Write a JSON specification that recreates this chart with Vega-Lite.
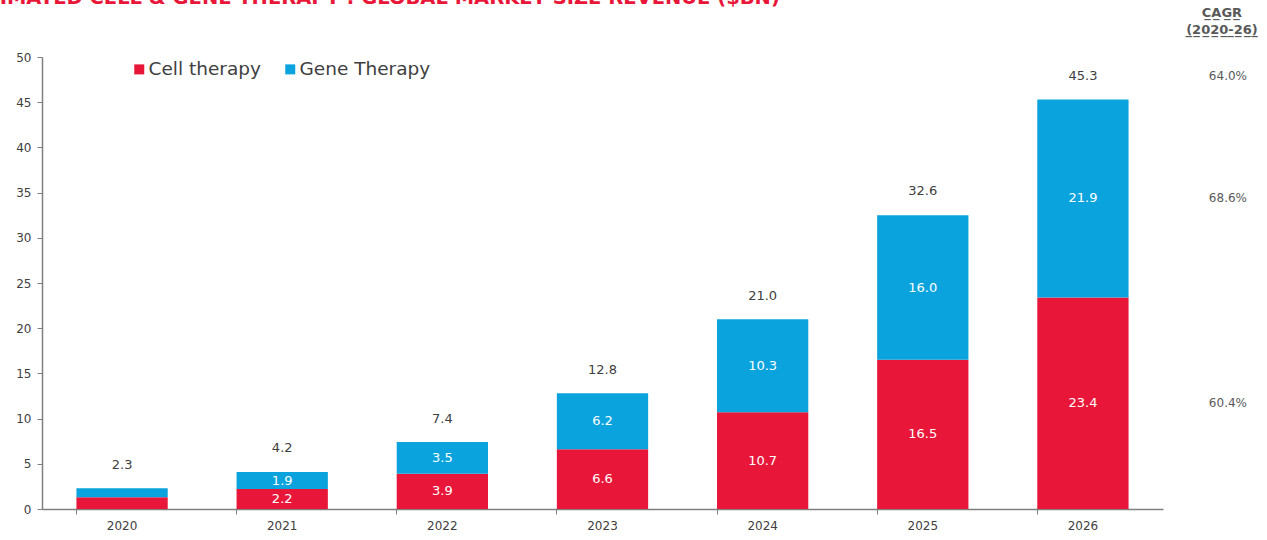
{
  "$schema": "https://vega.github.io/schema/vega-lite/v6.json",
  "width": 1121,
  "height": 452,
  "autosize": {"type": "none"},
  "padding": {"left": 42, "top": 57, "right": 104, "bottom": 31},
  "background": "white",
  "title": {
    "text": "ESTIMATED CELL & GENE THERAPY : GLOBAL MARKET SIZE REVENUE ($BN)",
    "anchor": "start",
    "frame": "group",
    "dx": -83,
    "dy": 20,
    "offset": 0,
    "baseline": "bottom",
    "color": "#E8173A",
    "font": "DejaVu Sans",
    "fontSize": 19.5,
    "fontWeight": "bold"
  },
  "config": {
    "view": {"stroke": null},
    "font": "DejaVu Sans",
    "text": {"font": "DejaVu Sans"}
  },
  "datasets": {
    "segments": [
      {"year": "2020", "series": "Cell therapy", "value": 1.3, "cagr": ""},
      {"year": "2020", "series": "Gene Therapy", "value": 1.0, "cagr": ""},
      {"year": "2021", "series": "Cell therapy", "value": 2.2, "cagr": ""},
      {"year": "2021", "series": "Gene Therapy", "value": 1.9, "cagr": ""},
      {"year": "2022", "series": "Cell therapy", "value": 3.9, "cagr": ""},
      {"year": "2022", "series": "Gene Therapy", "value": 3.5, "cagr": ""},
      {"year": "2023", "series": "Cell therapy", "value": 6.6, "cagr": ""},
      {"year": "2023", "series": "Gene Therapy", "value": 6.2, "cagr": ""},
      {"year": "2024", "series": "Cell therapy", "value": 10.7, "cagr": ""},
      {"year": "2024", "series": "Gene Therapy", "value": 10.3, "cagr": ""},
      {"year": "2025", "series": "Cell therapy", "value": 16.5, "cagr": ""},
      {"year": "2025", "series": "Gene Therapy", "value": 16.0, "cagr": ""},
      {"year": "2026", "series": "Cell therapy", "value": 23.4, "cagr": "60.4%"},
      {"year": "2026", "series": "Gene Therapy", "value": 21.9, "cagr": "68.6%"}
    ],
    "totals": [
      {"year": "2020", "total": 2.3, "cagr": ""},
      {"year": "2021", "total": 4.2, "cagr": ""},
      {"year": "2022", "total": 7.4, "cagr": ""},
      {"year": "2023", "total": 12.8, "cagr": ""},
      {"year": "2024", "total": 21.0, "cagr": ""},
      {"year": "2025", "total": 32.6, "cagr": ""},
      {"year": "2026", "total": 45.3, "cagr": "64.0%"}
    ]
  },
  "resolve": {"axis": {"x": "independent", "y": "independent"}},
  "layer": [
    {
      "data": {"name": "segments"},
      "mark": {"type": "bar"},
      "encoding": {
        "x": {
          "field": "year", "type": "nominal",
          "scale": {"paddingInner": 0.43, "paddingOuter": 0.215},
          "axis": {
            "orient": "bottom", "title": null, "labels": false, "ticks": true,
            "tickSize": 5, "bandPosition": 0, "domain": true,
            "domainColor": "#7f7f7f", "tickColor": "#7f7f7f", "domainWidth": 1.5, "grid": false
          }
        },
        "y": {
          "field": "value", "type": "quantitative", "stack": "zero",
          "scale": {"domain": [0, 50], "nice": false},
          "axis": {
            "orient": "left", "title": null, "grid": false,
            "values": [0, 5, 10, 15, 20, 25, 30, 35, 40, 45, 50],
            "domainColor": "#7f7f7f", "tickColor": "#7f7f7f", "domainWidth": 1.5,
            "tickSize": 5, "labelPadding": 6, "labelFontSize": 12,
            "labelColor": "#404040", "labelFont": "DejaVu Sans"
          }
        },
        "color": {
          "field": "series", "type": "nominal",
          "scale": {"domain": ["Cell therapy", "Gene Therapy"], "range": ["#E8173A", "#0BA3DD"]},
          "legend": {
            "title": null, "orient": "none", "legendX": 88, "legendY": 3,
            "direction": "horizontal", "symbolType": "square", "symbolSize": 100,
            "symbolStrokeWidth": 0, "labelFontSize": 18.5, "labelColor": "#404040",
            "labelFont": "DejaVu Sans", "labelOffset": 0, "columnPadding": 20
          }
        },
        "order": {"field": "series", "sort": "ascending"}
      }
    },
    {
      "data": {"name": "segments"},
      "transform": [
        {"filter": "datum.year != '2020'"},
        {"stack": "value", "groupby": ["year"], "sort": [{"field": "series", "order": "ascending"}], "as": ["v0", "v1"]},
        {"calculate": "(datum.v0 + datum.v1) / 2", "as": "mid"}
      ],
      "mark": {"type": "text", "color": "white", "fontSize": 13, "baseline": "middle"},
      "encoding": {
        "x": {"field": "year", "type": "nominal", "axis": null},
        "y": {"field": "mid", "type": "quantitative", "axis": null},
        "text": {"field": "value", "type": "quantitative", "format": ".1f"}
      }
    },
    {
      "data": {"name": "segments"},
      "transform": [
        {"stack": "value", "groupby": ["year"], "sort": [{"field": "series", "order": "ascending"}], "as": ["v0", "v1"]},
        {"calculate": "(datum.v0 + datum.v1) / 2", "as": "mid"},
        {"filter": "datum.year == '2026'"}
      ],
      "mark": {"type": "text", "color": "#595959", "fontSize": 12, "baseline": "middle", "dx": 145},
      "encoding": {
        "x": {"field": "year", "type": "nominal", "axis": null},
        "y": {"field": "mid", "type": "quantitative", "axis": null},
        "text": {"field": "cagr", "type": "nominal"}
      }
    },
    {
      "data": {"name": "totals"},
      "mark": {"type": "text", "color": "#404040", "fontSize": 13, "baseline": "middle", "dy": -23.5},
      "encoding": {
        "x": {
          "field": "year", "type": "nominal",
          "axis": {
            "orient": "bottom", "title": null, "ticks": false, "domain": false,
            "labelPadding": 11, "labelFontSize": 12, "labelColor": "#404040",
            "labelFont": "DejaVu Sans", "labelAngle": 0, "grid": false
          }
        },
        "y": {"field": "total", "type": "quantitative", "axis": null},
        "text": {"field": "total", "type": "quantitative", "format": ".1f"}
      }
    },
    {
      "data": {"name": "totals"},
      "transform": [{"filter": "datum.year == '2026'"}],
      "mark": {"type": "text", "color": "#595959", "fontSize": 12, "baseline": "middle", "dy": -23.5, "dx": 145},
      "encoding": {
        "x": {"field": "year", "type": "nominal", "axis": null},
        "y": {"field": "total", "type": "quantitative", "axis": null},
        "text": {"field": "cagr", "type": "nominal"}
      }
    },
    {
      "data": {"name": "totals"},
      "transform": [{"filter": "datum.year == '2026'"}],
      "mark": {
        "type": "text", "color": "#595959", "fontSize": 13, "fontWeight": "bold",
        "baseline": "top", "dy": -92, "dx": 139, "lineHeight": 17,
        "text": ["C̲A̲G̲R̲", "(̲2̲0̲2̲0̲-̲2̲6̲)̲"]
      },
      "encoding": {
        "x": {"field": "year", "type": "nominal", "axis": null},
        "y": {"field": "total", "type": "quantitative", "axis": null}
      }
    }
  ]
}
